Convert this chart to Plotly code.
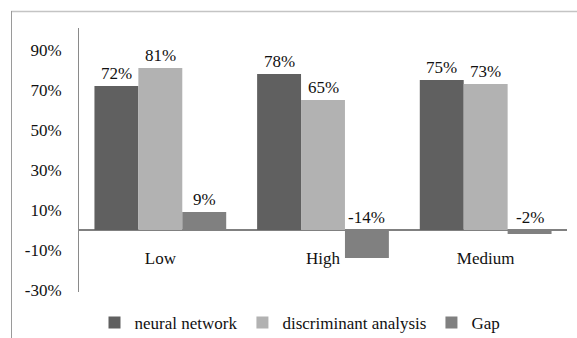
import plotly.graph_objects as go

categories = ["Low", "High", "Medium"]
neural_network = [0.72, 0.78, 0.75]
discriminant_analysis = [0.81, 0.65, 0.73]
gap = [0.09, -0.14, -0.02]
y_ticks = [-0.3, -0.1, 0.1, 0.3, 0.5, 0.7, 0.9]
y_tick_labels = ["-30%", "-10%", "10%", "30%", "50%", "70%", "90%"]

series_names = ["neural network", "discriminant analysis", "Gap"]
series_values = [neural_network, discriminant_analysis, gap]
series_colors = ["#606060", "#b2b2b2", "#808080"]

FONT = "Liberation Serif"
TXT = "#111111"
W, H = 577, 338
L, R, T, B = 79, 10, 28, 46
Y_RANGE = [-0.31, 1.01]
BARGAP = 0.19

fig = go.Figure()
for name, vals, col in zip(series_names, series_values, series_colors):
    fig.add_trace(go.Bar(
        x=list(range(len(categories))), y=vals, name=name,
        marker=dict(color=col, line=dict(width=0)),
    ))

# value labels sit just above the bar top, or above the zero line for negatives
bar_w = (1 - BARGAP) / len(series_values)
annotations = []
for i, vals in enumerate(series_values):
    off = (i - (len(series_values) - 1) / 2) * bar_w
    for k, v in enumerate(vals):
        annotations.append(dict(
            x=k + off, y=max(v, 0), xref="x", yref="y",
            text=f"{round(v * 100):.0f}%", showarrow=False,
            yanchor="bottom", xanchor="center", yshift=1,
            font=dict(family=FONT, size=17, color=TXT),
        ))

plot_h = H - T - B
zero_pos = (0 - Y_RANGE[0]) / (Y_RANGE[1] - Y_RANGE[0])

def px_x(p):
    return (p - L) / (W - L - R)

def px_y(p):
    return (H - B - p) / plot_h

shapes = [
    dict(type="line", xref="paper", yref="paper",
         x0=px_x(11), x1=px_x(W), y0=px_y(11.5), y1=px_y(11.5),
         line=dict(color="#c4c4c4", width=1.5)),
    dict(type="line", xref="paper", yref="paper",
         x0=px_x(11.5), x1=px_x(11.5), y0=px_y(11), y1=px_y(H),
         line=dict(color="#9a9a9a", width=1)),
]

fig.update_layout(
    width=W, height=H,
    margin=dict(l=L, r=R, t=T, b=B, autoexpand=False),
    paper_bgcolor="white", plot_bgcolor="white",
    barmode="group", bargap=BARGAP, bargroupgap=0,
    font=dict(family=FONT, size=17, color=TXT),
    xaxis=dict(
        tickvals=list(range(len(categories))), ticktext=categories,
        range=[-0.5, len(categories) - 0.5],
        anchor="free", position=zero_pos,
        showline=False, showgrid=False, zeroline=False, ticks="",
        ticklabelstandoff=16,
        tickfont=dict(family=FONT, size=17, color=TXT),
    ),
    yaxis=dict(
        range=Y_RANGE, tickvals=y_ticks, ticktext=y_tick_labels,
        showgrid=False, showline=True, linecolor="#8a8a8a", linewidth=1,
        zeroline=True, zerolinecolor="#808080", zerolinewidth=2,
        ticks="", ticklabelstandoff=13,
        tickfont=dict(family=FONT, size=17, color=TXT),
    ),
    legend=dict(
        orientation="h", x=px_x(300), xanchor="center",
        y=px_y(323), yanchor="middle",
        font=dict(family=FONT, size=17, color=TXT),
        itemwidth=30, traceorder="normal",
    ),
    annotations=annotations,
    shapes=shapes,
)

fig.write_html("out.html")
